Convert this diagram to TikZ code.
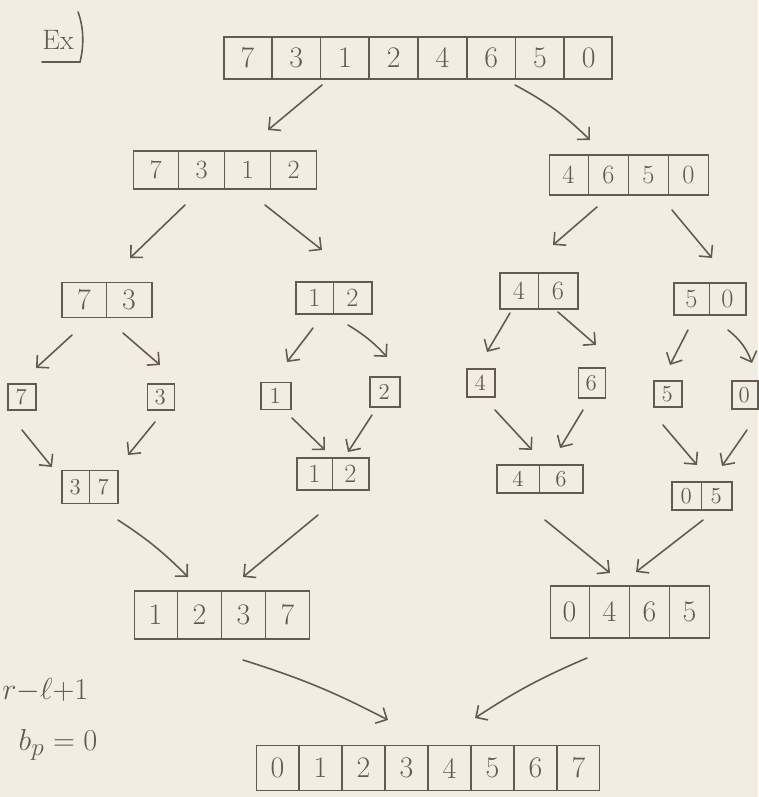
\documentclass[tikz,border=0pt]{standalone}
\usepackage{fontspec}
\usetikzlibrary{arrows.meta,calc}
\definecolor{pencil}{RGB}{100,90,78}
\definecolor{paper}{RGB}{242,237,227}
\tikzset{
  arrbox/.style={draw=pencil, line width=0.9pt, inner sep=0pt},
  dig/.style={text=pencil, inner sep=0pt, font=\fontsize{#1}{#1}\selectfont},
  sep/.style={draw=pencil, line width=0.9pt},
  arr/.style={draw=pencil, line width=0.9pt, line cap=round, -{Straight Barb[length=5pt,width=10pt]}},
  note/.style={text=pencil, inner sep=0pt, font=\fontsize{19}{19}\selectfont},
}
% name, position, n, cell width, height, font size, list
\newcommand\mkarr[7]{%
  \node[arrbox, minimum width={#3*#4*0.5669pt}, minimum height={#5*0.5669pt}] (#1) at (#2) {};
  \foreach \d [count=\i] in {#7} {%
    \node[dig=#6] at ($(#1.west)+({(\i-0.5)*#4},0)$) {\d};
    \ifnum\i>1 \draw[sep] ($(#1.south west)+({(\i-1)*#4},0)$) -- ($(#1.north west)+({(\i-1)*#4},0)$);\fi
  }%
}
\begin{document}
\begin{tikzpicture}[x=0.02cm, y=-0.02cm]
\fill[paper] (0,0) rectangle (758,797);
\useasboundingbox (0,0) rectangle (758,797);

% label
\node[note, font=\fontsize{16}{16}\selectfont] (ex) at (58,40) {Ex};
\draw[sep, line cap=round] ([shift={(-16,22)}]ex.center) -- ([shift={(22,22)}]ex.center)
  .. controls ([shift={(26,6)}]ex.center) and ([shift={(26,-12)}]ex.center) .. ([shift={(20,-28)}]ex.center);

% arrays
\mkarr{top}{418,58}{8}{48.75}{42}{17}{7,3,1,2,4,6,5,0}
\mkarr{la}{225,170}{4}{46}{38}{15}{7,3,1,2}
\mkarr{ra}{629,175}{4}{40}{40}{15}{4,6,5,0}
\mkarr{a73}{107,300}{2}{45}{35}{17}{7,3}
\mkarr{a12}{334,298}{2}{38}{32}{15}{1,2}
\mkarr{a46}{539,291}{2}{39}{36}{15}{4,6}
\mkarr{a50}{710,299}{2}{36}{32}{15}{5,0}
\mkarr{s7}{22,397}{1}{28}{26}{13}{7}
\mkarr{s3}{161,397}{1}{27}{26}{13}{3}
\mkarr{s1}{276,396}{1}{30}{27}{13}{1}
\mkarr{s2}{385,392}{1}{30}{30}{13}{2}
\mkarr{s4}{481,383}{1}{28}{28}{13}{4}
\mkarr{s6}{592,383}{1}{27}{30}{13}{6}
\mkarr{s5}{668,394}{1}{28}{26}{13}{5}
\mkarr{s0}{745,395}{1}{26}{28}{13}{0}
\mkarr{m37}{90,487}{2}{28}{33}{13}{3,7}
\mkarr{m12}{333,474}{2}{36}{32}{15}{1,2}
\mkarr{m46}{540,479}{2}{43}{28}{13}{4,6}
\mkarr{m05}{702,496}{2}{30}{28}{13}{0,5}
\mkarr{h1}{222,615}{4}{44}{48}{17}{1,2,3,7}
\mkarr{h2}{630,612}{4}{40}{52}{17}{0,4,6,5}
\mkarr{fin}{428,768}{8}{43}{45}{17}{0,1,2,3,4,5,6,7}

% side notes
\node[note, anchor=west, font=\fontsize{16}{16}\selectfont] (rl) at (2,690) {$r{-}\ell{+}1$};
\node[note] (bp) at (58,745) {$b_p=0$};

% split arrows
\draw[arr] ([shift={(-96,27)}]top.center) -- ([shift={(43,-40)}]la.center);
\draw[arr] ([shift={(97,27)}]top.center) to[bend left=8] ([shift={(-39,-35)}]ra.center);
\draw[arr] ([shift={(-40,35)}]la.center) -- ([shift={(23,-42)}]a73.center);
\draw[arr] ([shift={(40,35)}]la.center) -- ([shift={(-12,-48)}]a12.center);
\draw[arr] ([shift={(-32,32)}]ra.center) -- ([shift={(14,-46)}]a46.center);
\draw[arr] ([shift={(43,35)}]ra.center) -- ([shift={(2,-41)}]a50.center);
\draw[arr] ([shift={(-35,35)}]a73.center) -- ([shift={(14,-29)}]s7.center);
\draw[arr] ([shift={(16,33)}]a73.center) -- ([shift={(-1,-32)}]s3.center);
\draw[arr] ([shift={(-21,30)}]a12.center) -- ([shift={(11,-34)}]s1.center);
\draw[arr] ([shift={(14,27)}]a12.center) to[bend left=8] ([shift={(2,-35)}]s2.center);
\draw[arr] ([shift={(-29,22)}]a46.center) -- ([shift={(6,-31)}]s4.center);
\draw[arr] ([shift={(19,21)}]a46.center) -- ([shift={(4,-38)}]s6.center);
\draw[arr] ([shift={(-22,31)}]a50.center) -- ([shift={(2,-29)}]s5.center);
\draw[arr] ([shift={(18,31)}]a50.center) to[bend left=15] ([shift={(7,-32)}]s0.center);
% merge arrows
\draw[arr] ([shift={(0,33)}]s7.center) -- ([shift={(-38,-20)}]m37.center);
\draw[arr] ([shift={(-6,25)}]s3.center) -- ([shift={(38,-32)}]m37.center);
\draw[arr] ([shift={(16,22)}]s1.center) -- ([shift={(-8,-24)}]m12.center);
\draw[arr] ([shift={(-13,23)}]s2.center) -- ([shift={(15,-22)}]m12.center);
\draw[arr] ([shift={(14,27)}]s4.center) -- ([shift={(-8,-29)}]m46.center);
\draw[arr] ([shift={(-9,27)}]s6.center) -- ([shift={(20,-31)}]m46.center);
\draw[arr] ([shift={(-5,31)}]s5.center) -- ([shift={(-5,-31)}]m05.center);
\draw[arr] ([shift={(2,35)}]s0.center) -- ([shift={(20,-30)}]m05.center);
\draw[arr] ([shift={(28,33)}]m37.center) to[bend left=6] ([shift={(-34,-38)}]h1.center);
\draw[arr] ([shift={(-15,41)}]m12.center) -- ([shift={(21,-38)}]h1.center);
\draw[arr] ([shift={(5,41)}]m46.center) -- ([shift={(-20,-39)}]h2.center);
\draw[arr] ([shift={(1,24)}]m05.center) -- ([shift={(6,-40)}]h2.center);
\draw[arr] ([shift={(21,45)}]h1.center) to[bend left=5] ([shift={(-40,-48)}]fin.center);
\draw[arr] ([shift={(-43,46)}]h2.center) to[bend right=5] ([shift={(47,-50)}]fin.center);
\end{tikzpicture}
\end{document}
